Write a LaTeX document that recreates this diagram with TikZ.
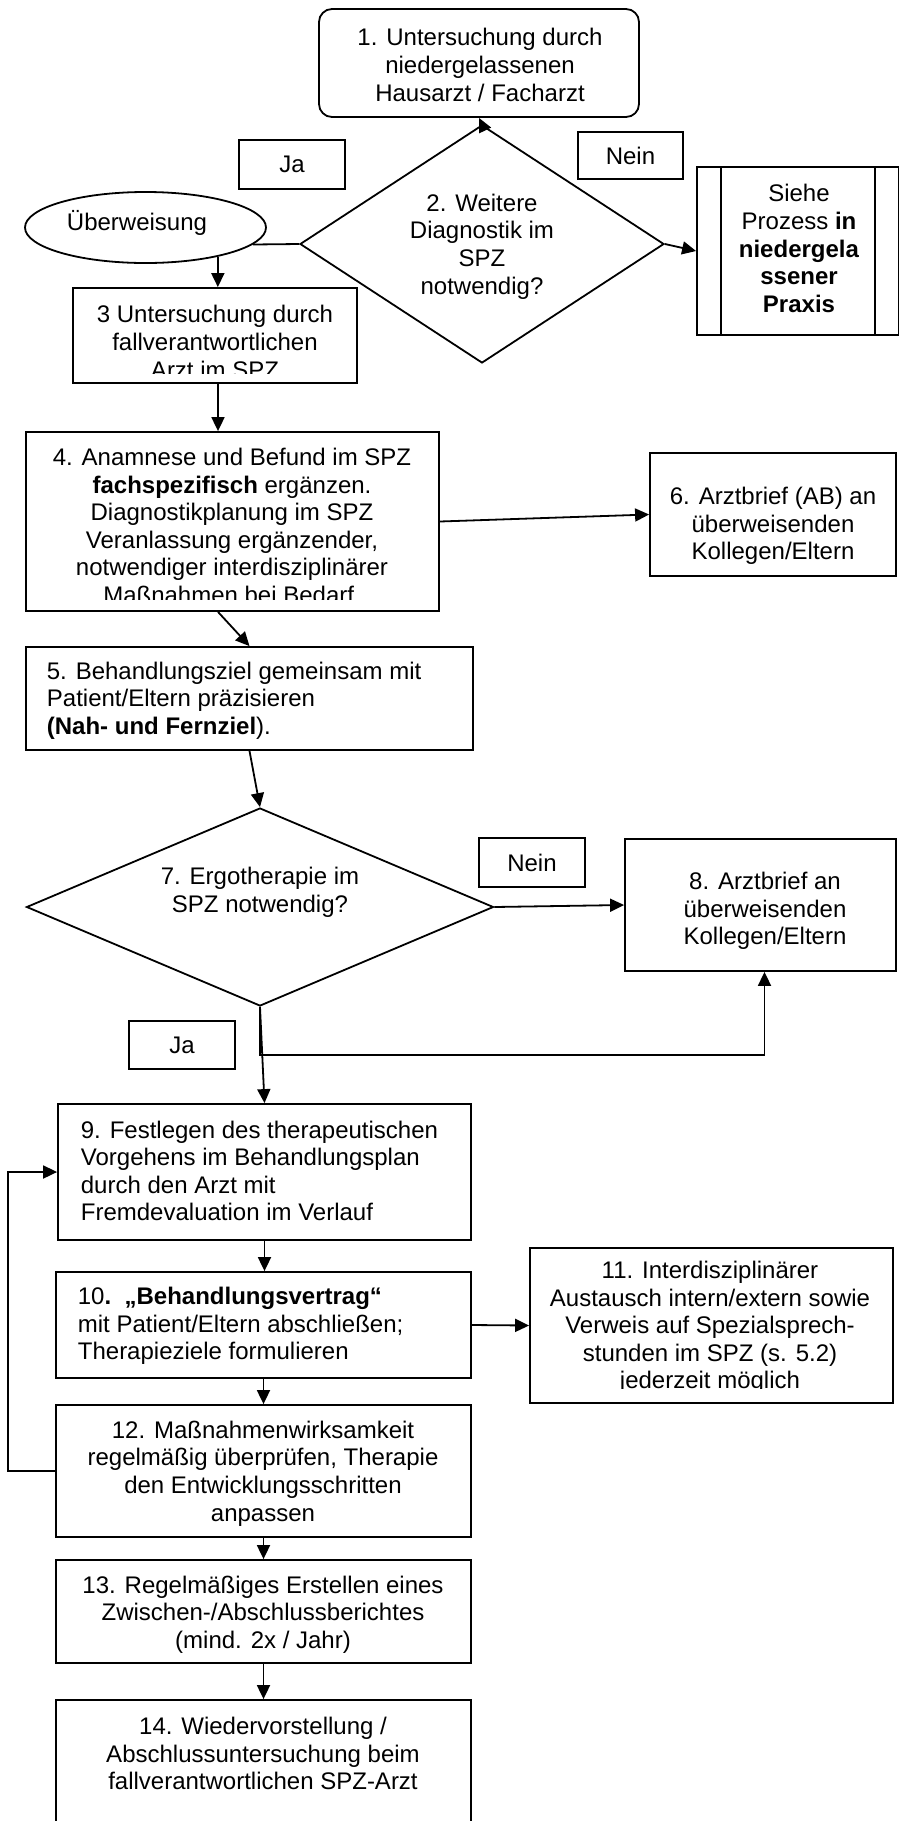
\documentclass[tikz,border=0pt]{standalone}
\usepackage{fontspec}
\setmainfont{Liberation Sans}
\usetikzlibrary{arrows.meta,shapes.geometric}
\begin{document}
\begin{tikzpicture}[x=1pt,y=-1pt,
  line width=1.8pt,
  box/.style={draw, rectangle, inner sep=0pt},
  dia/.style={draw, diamond, inner sep=0pt},
  ova/.style={draw, ellipse, inner sep=0pt},
  txt/.style={inner sep=0pt, font=\fontsize{24}{27.6}\selectfont, align=center},
  txtl/.style={inner sep=0pt, font=\fontsize{24}{27.6}\selectfont, align=left, anchor=west},
  lab/.style={box, font=\fontsize{24}{27.6}\selectfont},
  arr/.style={-{Triangle[length=14pt,width=13pt]}},
]
\useasboundingbox (0,0) rectangle (898,1821);

% ---------- shapes ----------
\node[box, rounded corners=13pt, minimum width=320pt, minimum height=108pt] (b1) at (479,63) {};
\node[dia, minimum width=364pt, minimum height=238pt] (d2) at (482,244) {};
\node[lab, minimum width=106pt, minimum height=49pt] (ja1) at (292,164.5) {Ja};
\node[lab, minimum width=105pt, minimum height=47pt] (nein1) at (630.5,155.5) {Nein};
\node[box, minimum width=202pt, minimum height=168pt] (proc) at (798,251) {};
\draw (721,167) -- (721,335) (875,167) -- (875,335);
\node[ova, minimum width=241pt, minimum height=71pt] (ell) at (145.5,227.5) {};
\node[box, minimum width=284pt, minimum height=95pt] (b3) at (215,335.5) {};
\node[box, minimum width=413pt, minimum height=179pt] (b4) at (232.5,521.5) {};
\node[box, minimum width=246pt, minimum height=123pt] (b6) at (773,514.5) {};
\node[box, minimum width=447pt, minimum height=103pt] (b5) at (249.5,698.5) {};
\node[dia, minimum width=467pt, minimum height=198pt] (d7) at (260,907) {};
\node[lab, minimum width=106pt, minimum height=49pt] (nein2) at (532,862.5) {Nein};
\node[box, minimum width=271pt, minimum height=132pt] (b8) at (760.5,905) {};
\node[lab, minimum width=106pt, minimum height=48pt] (ja2) at (182,1045) {Ja};
\node[box, minimum width=413pt, minimum height=136pt] (b9) at (264.5,1172) {};
\node[box, minimum width=415pt, minimum height=106pt] (b10) at (263.5,1325) {};
\node[box, minimum width=363pt, minimum height=155pt] (b11) at (711.5,1325.5) {};
\node[box, minimum width=415pt, minimum height=132pt] (b12) at (263.5,1471) {};
\node[box, minimum width=415pt, minimum height=103pt] (b13) at (263.5,1611.5) {};
\node[box, minimum width=415pt, minimum height=140pt] (b14) at (263.5,1770) {};

% ---------- texts ----------
\node[txt] (t1) at (480,65) {1. Untersuchung durch\\niedergelassenen\\Hausarzt / Facharzt};
\node[txt] (t2) at (482,246.5) {2. Weitere\\Diagnostik im\\SPZ\\notwendig?};
\node[txt] (tp) at (799,248.5) {Siehe\\Prozess \textbf{in}\\\textbf{niedergela}\\\textbf{ssener}\\\textbf{Praxis}};
\node[txt] (te) at (137,223) {Überweisung};
\begin{scope}
  \clip (73,288) rectangle (357,373);
  \node[txt] (t3) at (215,342) {3 Untersuchung durch\\fallverantwortlichen\\Arzt im SPZ};
\end{scope}
\begin{scope}
  \clip (26,432) rectangle (439,599);
  \node[txt] (t4) at (232,526) {4. Anamnese und Befund im SPZ\\\textbf{fachspezifisch} ergänzen.\\Diagnostikplanung im SPZ\\Veranlassung ergänzender,\\notwendiger interdisziplinärer\\Maßnahmen bei Bedarf.};
\end{scope}
\node[txt] (t6) at (773,526) {6. Arztbrief (AB) an\\überweisenden\\Kollegen/Eltern};
\node[txtl] (t5) at (46,700.5) {5. Behandlungsziel gemeinsam mit\\Patient/Eltern präzisieren\\\textbf{(Nah- und Fernziel}).};
\node[txt] (t7) at (260,892) {7. Ergotherapie im\\SPZ notwendig?};
\node[txt] (t8) at (765,911) {8. Arztbrief an\\überweisenden\\Kollegen/Eltern};
\node[txtl] (t9) at (80,1171) {9. Festlegen des therapeutischen\\Vorgehens im Behandlungsplan\\durch den Arzt mit\\Fremdevaluation im Verlauf};
\node[txtl] (t10) at (77,1326) {10\textbf{.\ \ „Behandlungsvertrag“}\\mit Patient/Eltern abschließen;\\Therapieziele formulieren};
\begin{scope}
  \clip (530,1248) rectangle (893,1388);
  \node[txt] (t11) at (710,1327.5) {11. Interdisziplinärer\\Austausch intern/extern sowie\\Verweis auf Spezialsprech-\\stunden im SPZ (s. 5.2)\\jederzeit möglich};
\end{scope}
\node[txt] (t12) at (263,1473.5) {12. Maßnahmenwirksamkeit\\regelmäßig überprüfen, Therapie\\den Entwicklungsschritten\\anpassen};
\node[txt] (t13) at (263,1614.5) {13. Regelmäßiges Erstellen eines\\Zwischen-/Abschlussberichtes\\(mind. 2x / Jahr)};
\node[txt] (t14) at (263,1753.5) {14. Wiedervorstellung /\\Abschlussuntersuchung beim\\fallverantwortlichen SPZ-Arzt};

% ---------- connectors ----------
\coordinate (fb) at (8,0);
\coordinate (j7) at (0,1055);
\draw[arr] (d2.north) -- (b1.south);
\draw[arr] (d2.east) -- (proc.west);
\draw (d2.west) -- (ell.-9);
\draw[arr] (ell.-22.6) -- (ell.-22.6 |- b3.north);
\draw[arr] ([xshift=3pt]b3.south) -- ([xshift=3pt]b3.south |- b4.north);
\draw[arr] ([xshift=-14.5pt]b4.south) -- (b5.north);
\draw[arr] (b4.east) -- (b6.west);
\draw[arr] (b5.south) -- (d7.north);
\draw[arr] (d7.east) -- (b8.west);
\draw[arr] (d7.south) -- (d7.south |- j7) -| ([xshift=4pt]b8.south);
\draw[arr] (d7.south) -- (b9.north);
\draw[arr] (b9.south) -- (b9.south |- b10.north);
\draw[arr] (b10.east) -- (b11.west);
\draw[arr] (b10.south) -- (b12.north);
\draw[arr] (b12.west) -- (b12.west -| fb) |- (b9.west);
\draw[arr] (b12.south) -- (b13.north);
\draw[arr] (b13.south) -- (b14.north);
\end{tikzpicture}
\end{document}
